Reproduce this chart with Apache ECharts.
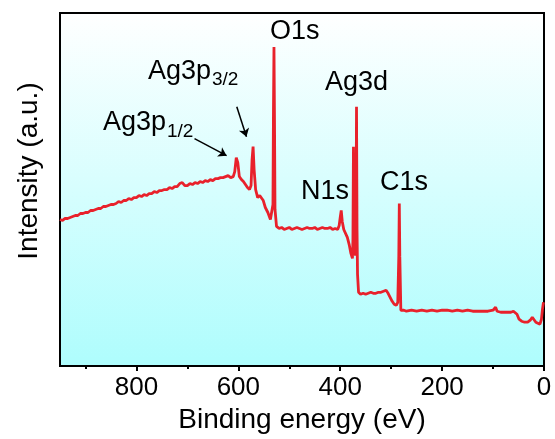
<!DOCTYPE html>
<html>
<head>
    <meta charset="utf-8">
    <title>XPS survey</title>
    <script type="text/javascript" src="https://cdn.jsdelivr.net/npm/echarts@6/dist/echarts.min.js"></script>
    <style>
        html, body { margin: 0; padding: 0; background: #fff; }
    </style>
</head>
<body>
<div id="main" style="width: 555px;height:439px;"></div>
<script type="text/javascript">
    // binding energy (eV), high to low
    var energy = [950, 945, 940, 935, 930, 925, 920, 915, 910, 905, 900, 895, 890, 885, 880, 875, 870, 865, 860, 855,
        850, 845, 840, 835, 830, 825, 820, 815, 810, 805, 800, 795, 790, 785, 780, 775, 770, 765, 760, 755,
        750, 745, 740, 735, 730, 725, 720, 715, 710, 705, 700, 695, 690, 685, 680, 675, 670, 665, 660, 655,
        650, 645, 640, 635, 630, 625, 620, 615, 610, 607, 604, 601, 598, 594, 590, 586, 582, 578, 575, 573,
        571, 569, 566, 562, 558, 555, 551, 547, 542, 537, 534, 532, 531, 530, 529, 528, 525, 520, 515, 510,
        505, 500, 495, 490, 485, 480, 475, 470, 465, 460, 455, 450, 445, 440, 435, 430, 425, 420, 415, 410,
        405, 402, 400, 398, 396, 393, 390, 386, 382, 379, 376, 375, 374, 373, 372, 370, 369, 368, 367, 366,
        364, 360, 355, 350, 345, 340, 335, 330, 325, 320, 315, 310, 306, 302, 298, 294, 290, 287, 285, 284,
        283, 281, 280, 275, 270, 260, 250, 240, 230, 220, 210, 200, 190, 180, 170, 160, 150, 140, 130, 120,
        110, 100, 95, 92, 85, 75, 65, 60, 57, 53, 49, 44, 38, 32, 27, 23, 20, 16, 12, 8, 5, 3, 1];
    // intensity (a.u.)
    var counts = [147, 146, 148, 148, 149, 150, 151, 151, 153, 153, 154, 154, 156, 156, 157, 158, 158, 160, 160, 161,
        162, 162, 163, 165, 164, 166, 166, 168, 167, 169, 169, 171, 170, 172, 171, 173, 173, 175, 174, 176,
        176, 177, 177, 179, 178, 180, 180, 183, 184, 181, 181, 183, 182, 184, 183, 185, 184, 186, 185, 187,
        186, 188, 188, 189, 189, 190, 191, 189, 190, 195, 209, 204, 190, 187, 185, 182, 179, 177, 181, 207,
        220, 197, 177, 169, 171, 172, 166, 159, 154, 147, 145, 162, 257, 320, 247, 157, 140, 138, 139, 137,
        138, 139, 137, 138, 139, 138, 137, 138, 139, 138, 138, 139, 137, 138, 139, 138, 138, 139, 137, 138,
        137, 141, 149, 156, 145, 137, 135, 129, 121, 113, 108, 127, 220, 147, 115, 111, 137, 260, 137, 92,
        74, 72, 73, 72, 73, 74, 73, 73, 74, 74, 75, 76, 73, 69, 65, 62, 61, 64, 110, 163,
        110, 56, 55, 56, 55, 56, 55, 56, 55, 56, 55, 56, 56, 55, 56, 55, 56, 55, 55, 55,
        55, 56, 59, 55, 54, 54, 54, 55, 57, 52, 47, 45, 44, 44, 46, 49, 47, 44, 43, 42, 47, 57, 64];
    var majorTicks = [0, 200, 400, 600, 800];
    var minorTicks = [100, 300, 500, 700, 900];

    var font = 'Liberation Sans, Arial, sans-serif';
    var spectrum = [];
    for (var i = 0; i < energy.length; i++) {
        spectrum.push([energy[i], counts[i]]);
    }

    var myChart = echarts.init(document.getElementById('main'));

    function label(text, left, top, size) {
        return {
            type: 'text', left: left, top: top, z: 100,
            style: {text: text, fill: '#000', font: size + 'px ' + font}
        };
    }

    var option = {
        animation: false,
        grid: {
            left: 60, right: 11, top: 13, bottom: 72,
            show: true,
            borderColor: '#000',
            borderWidth: 2,
            backgroundColor: {
                type: 'linear', x: 0, y: 0, x2: 0, y2: 1,
                colorStops: [{offset: 0, color: '#ffffff'}, {offset: 1, color: '#aefdfd'}]
            }
        },
        xAxis: [{
            type: 'value', min: 0, max: 950, inverse: true,
            axisLine: {lineStyle: {color: '#000', width: 2}},
            axisTick: {customValues: majorTicks, length: 5, lineStyle: {color: '#000', width: 2}},
            axisLabel: {customValues: majorTicks, fontSize: 26, color: '#000', margin: 9, fontFamily: font},
            splitLine: {show: false},
            name: 'Binding energy (eV)',
            nameLocation: 'middle',
            nameGap: 38,
            nameTextStyle: {fontSize: 28, color: '#000', fontFamily: font}
        }, {
            type: 'value', min: 0, max: 950, inverse: true, position: 'bottom',
            axisLine: {show: false},
            axisTick: {customValues: minorTicks, length: 3, lineStyle: {color: '#000', width: 2}},
            axisLabel: {show: false},
            splitLine: {show: false}
        }],
        yAxis: {
            type: 'value', min: 0, max: 354,
            axisLine: {show: true, lineStyle: {color: '#000', width: 2}},
            axisTick: {show: false},
            axisLabel: {show: false},
            splitLine: {show: false}
        },
        graphic: [
            {
                type: 'text', x: 29, y: 171, rotation: Math.PI / 2, z: 100,
                style: {
                    text: 'Intensity (a.u.)', fill: '#000', font: '28px ' + font,
                    align: 'center', verticalAlign: 'middle'
                }
            },
            label('O1s', 270, 18, 27),
            label('Ag3d', 325, 69, 27),
            label('N1s', 301, 178, 27),
            label('C1s', 380, 169, 27),
            label('Ag3p', 148, 58, 27),
            label('3/2', 212, 70, 19),
            label('Ag3p', 103, 109, 27),
            label('1/2', 167, 122, 19)
        ],
        series: [{
            type: 'line',
            xAxisIndex: 0,
            data: spectrum,
            showSymbol: false,
            lineStyle: {color: '#e8212b', width: 2.8},
            markLine: {
                silent: true,
                symbol: ['none', 'arrow'],
                symbolSize: 8,
                label: {show: false},
                lineStyle: {color: '#000', width: 1.5, type: 'solid'},
                data: [
                    [{coord: [603, 260]}, {coord: [584, 230]}],
                    [{coord: [686, 228]}, {coord: [623, 211]}]
                ]
            }
        }]
    };

    myChart.setOption(option);
</script>
</body>
</html>
